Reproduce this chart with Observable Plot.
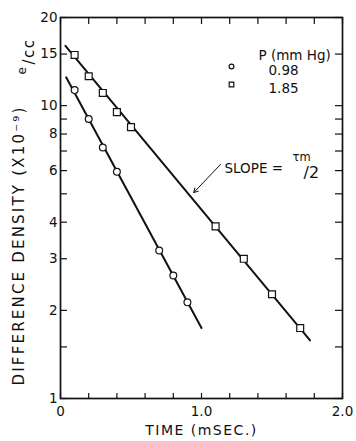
<!DOCTYPE html>
<html><head><meta charset="utf-8">
<script src="https://cdn.jsdelivr.net/npm/d3@7"></script>
<script src="https://cdn.jsdelivr.net/npm/@observablehq/plot@0.6"></script>
<style>body{margin:0;background:#fff} svg{display:block}</style>
</head><body><div id="chart"></div>
<script>
// Data
const lowTime = [0.1, 0.2, 0.3, 0.4, 0.7, 0.8, 0.9];
const lowDensity = [11.3, 9.0, 7.2, 5.95, 3.2, 2.63, 2.13];
const highTime = [0.1, 0.2, 0.3, 0.4, 0.5, 1.1, 1.3, 1.5, 1.7];
const highDensity = [14.9, 12.6, 11.05, 9.5, 8.45, 3.87, 3.0, 2.27, 1.74];
const lowFitTime = [0.04, 1.0];
const lowFitDensity = [12.5, 1.74];
const highFitTime = [0.035, 1.77];
const highFitDensity = [16.0, 1.58];
const pressures = ["0.98", "1.85"];
const legendTitle = "P (mm Hg)";
const xTickValues = [0, 0.2, 0.4, 0.6, 0.8, 1.0, 1.2, 1.4, 1.6, 1.8, 2.0];
const xTickLabels = [0, 1, 2];
const yTickValues = [1, 1.5, 2, 3, 4, 5, 6, 7, 8, 9, 10, 15, 20];
const yTickLabels = [1, 2, 3, 4, 6, 8, 10, 15, 20];
const slopeArrowTime = [1.135, 0.945];
const slopeArrowDensity = [6.3, 5.05];
const yTitle = "DIFFERENCE DENSITY (X10⁻⁹)";
const yUnit = "/cc";
const xTitle = "TIME (mSEC.)";

const lowPts = lowTime.map((t, i) => ({t, d: lowDensity[i]}));
const highPts = highTime.map((t, i) => ({t, d: highDensity[i]}));
const lowFit = lowFitTime.map((t, i) => ({t, d: lowFitDensity[i]}));
const highFit = highFitTime.map((t, i) => ({t, d: highFitDensity[i]}));
const arrow = [{x1: slopeArrowTime[0], y1: slopeArrowDensity[0], x2: slopeArrowTime[1], y2: slopeArrowDensity[1]}];

const font = "'DejaVu Sans', sans-serif";
const ink = "#111";
const FW = 282, FH = 381;

const chart = Plot.plot({
  width: 356, height: 441,
  marginLeft: 60, marginRight: 14, marginTop: 17, marginBottom: 43,
  style: {fontFamily: font, fontSize: "13.5px", color: ink, background: "#fff"},
  x: {domain: [0, 2]},
  y: {type: "log", domain: [1, 20]},
  marks: [
    Plot.ruleY(yTickValues, {y: d => d, insetRight: FW - 7, strokeWidth: 1.2}),
    Plot.ruleY(yTickValues, {y: d => d, insetLeft: FW - 7, strokeWidth: 1.2}),
    Plot.ruleX(xTickValues, {x: d => d, insetTop: FH - 5, strokeWidth: 1.2}),
    Plot.ruleX(xTickValues, {x: d => d, insetBottom: FH - 7, strokeWidth: 1.2}),
    Plot.frame({strokeWidth: 1.7}),
    Plot.axisY(yTickLabels, {tickSize: 0, tickPadding: 3, label: null, fontSize: 13.5, tickFormat: d => String(d)}),
    Plot.axisX(xTickLabels, {tickSize: 0, tickPadding: 8, label: null, fontSize: 13.5, tickFormat: d => d === 0 ? "0" : d.toFixed(1)}),
    Plot.line(lowFit, {x: "t", y: "d", strokeWidth: 2}),
    Plot.line(highFit, {x: "t", y: "d", strokeWidth: 2}),
    Plot.dot(lowPts, {x: "t", y: "d", r: 3.4, symbol: "circle", stroke: ink, fill: "white", strokeWidth: 1.2}),
    Plot.dot(highPts, {x: "t", y: "d", r: 3.9, symbol: "square", stroke: ink, fill: "white", strokeWidth: 1.2}),
    Plot.arrow(arrow, {x1: "x1", y1: "y1", x2: "x2", y2: "y2", strokeWidth: 1, headLength: 7}),
    // legend
    Plot.text([legendTitle], {frameAnchor: "top-left", dx: 198, dy: 33, textAnchor: "start", fontSize: 13.5}),
    Plot.dot([pressures[0]], {frameAnchor: "top-left", dx: 171, dy: 49, r: 2.4, symbol: "circle", stroke: ink, fill: "white", strokeWidth: 1.2}),
    Plot.dot([pressures[1]], {frameAnchor: "top-left", dx: 171, dy: 67, r: 2.6, symbol: "square", stroke: ink, fill: "white", strokeWidth: 1.2}),
    Plot.text([pressures[0]], {frameAnchor: "top-left", dx: 208, dy: 48, textAnchor: "start", fontSize: 13.5}),
    Plot.text([pressures[1]], {frameAnchor: "top-left", dx: 208, dy: 66, textAnchor: "start", fontSize: 13.5}),
    // slope annotation
    Plot.text(["SLOPE ="], {frameAnchor: "top-left", dx: 164, dy: 146, textAnchor: "start", fontSize: 13.5}),
    Plot.text(["τm"], {frameAnchor: "top-left", dx: 232, dy: 135, textAnchor: "start", fontSize: 11.5}),
    Plot.text(["/2"], {frameAnchor: "top-left", dx: 243, dy: 149, textAnchor: "start", fontSize: 16}),
    // axis titles
    Plot.text([xTitle], {frameAnchor: "bottom", dy: 36, fontSize: 14}),
    Plot.text([yTitle], {frameAnchor: "bottom-left", dx: -37, dy: -13, rotate: -90, textAnchor: "start", fontSize: 15}),
    Plot.text(["e"], {frameAnchor: "top-left", dx: -43, dy: 57, rotate: -90, textAnchor: "start", fontSize: 12}),
    Plot.text([yUnit], {frameAnchor: "top-left", dx: -37, dy: 47, rotate: -90, textAnchor: "start", fontSize: 15})
  ]
});
const spacing = {[yTitle]: 2.2, [yUnit]: 1.5, [xTitle]: 1.5};
d3.select(chart).selectAll("text").each(function() {
  const s = spacing[this.textContent];
  if (s !== undefined) this.setAttribute("letter-spacing", s);
});
document.getElementById("chart").append(chart);
</script>
</body></html>
